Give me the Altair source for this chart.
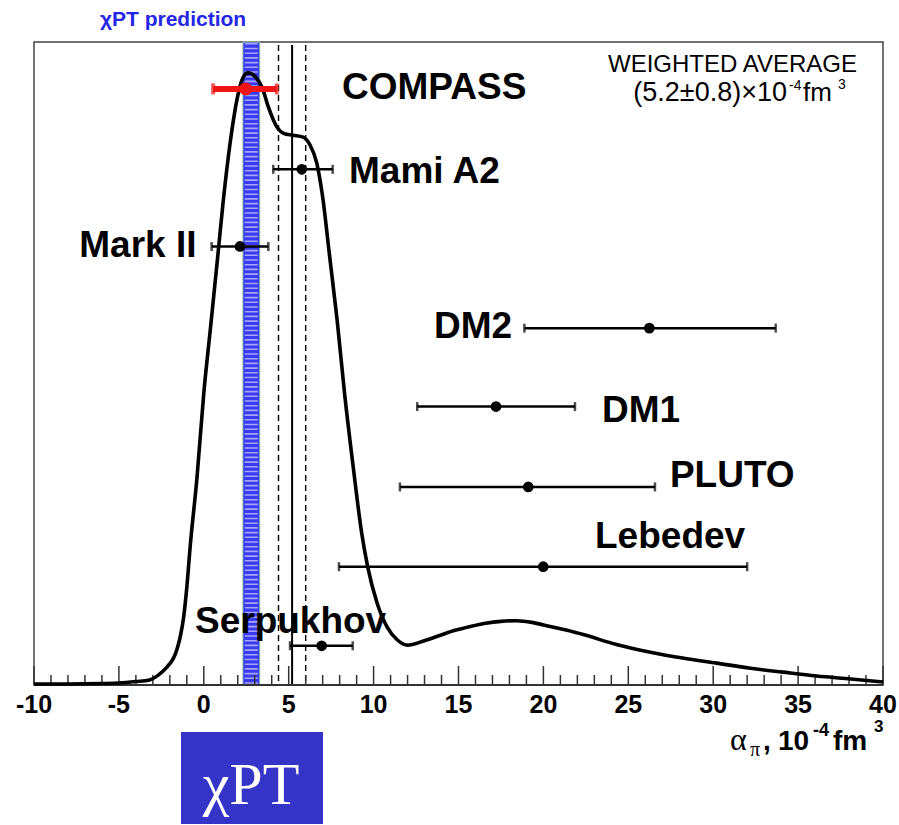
import altair as alt
import pandas as pd

# ---------------- data ----------------
curve_x = [-10, -8, -6, -5, -4, -3.2, -2.7, -2.2, -1.8, -1.65, -1.5, -1.35, -1.2, -1.0, -0.8,
           -0.4, 0.0, 0.4,
           0.8, 1.15, 1.55, 1.95, 2.25, 2.6, 3.1, 3.45, 3.8, 4.3, 4.7, 5.25, 5.85, 6.25, 6.65,
           7.0, 7.4, 7.85, 8.3, 8.8, 9.3, 9.65, 10.2, 10.8, 11.4, 12.0, 12.9, 13.9, 14.8, 15.7,
           16.6, 17.5, 18.4, 19.4, 20.4, 21.4, 22.4, 24.3, 26.3, 28.2, 30.2, 32.2, 34.1, 36.1,
           38.1, 40]
curve_y = [0.16, 0.16, 0.23, 0.31, 0.54, 0.78, 1.5, 2.7, 4.1, 5.0, 6.3, 8.0, 10.3, 15.2, 21.6,
           32.3, 45.4, 55.7,
           66.1, 75.4, 84.3, 91.0, 94.1, 95.2, 94.4, 92.8, 89.9, 86.8, 85.8, 85.5, 85.2, 84.0, 81.2,
           75.9, 66.9, 56.8, 45.1, 33.9, 23.6, 18.4, 12.8, 9.0, 7.0, 6.2, 6.8, 7.7, 8.5, 9.1,
           9.6, 9.9, 10.0, 9.7, 9.1, 8.5, 7.8, 6.3, 5.1, 4.2, 3.4, 2.6, 2.0, 1.4,
           0.93, 0.47]

exp_names = ["COMPASS", "Mami A2", "Mark II", "DM2", "DM1", "PLUTO", "Lebedev", "Serpukhov"]
exp_val = [2.47, 5.77, 2.13, 26.24, 17.21, 19.11, 19.99, 6.94]
exp_lo = [0.55, 4.09, 0.46, 18.88, 12.57, 11.55, 7.96, 5.08]
exp_hi = [4.30, 7.59, 3.80, 33.68, 21.86, 26.57, 32.00, 8.77]
exp_row = [92.7, 80.2, 68.2, 55.5, 43.3, 30.8, 18.4, 6.1]

label_x = [8.14, 8.55, -0.43, 13.56, 23.45, 27.45, 23.04, -0.52]
label_y = [91.1, 78.1, 66.6, 54.0, 40.9, 30.8, 21.3, 8.1]
label_align = ["left", "left", "right", "left", "left", "left", "left", "left"]

wavg = [5.2]
wavg_lo = [4.4]
wavg_hi = [6.0]
chpt_lo = [2.3]
chpt_hi = [3.3]

major_ticks = [-10, -5, 0, 5, 10, 15, 20, 25, 30, 35, 40]
minor_ticks = [v for v in range(-10, 41) if v % 5 != 0]

# ---------------- tables ----------------
curve_df = pd.DataFrame({"x": curve_x, "y": curve_y})
exp_df = pd.DataFrame({"name": exp_names, "val": exp_val, "lo": exp_lo, "hi": exp_hi,
                       "row": exp_row, "lx": label_x, "ly": label_y, "align": label_align})
exp_df["red"] = exp_df["name"] == "COMPASS"
caps_df = pd.concat([
    pd.DataFrame({"name": exp_names, "cx": exp_lo, "row": exp_row}),
    pd.DataFrame({"name": exp_names, "cx": exp_hi, "row": exp_row}),
])
caps_df["red"] = caps_df["name"] == "COMPASS"
band_df = pd.DataFrame({"lo": chpt_lo, "hi": chpt_hi})
wavg_df = pd.DataFrame({"c": wavg})
wdash_df = pd.DataFrame({"c": wavg_lo + wavg_hi})
maj_df = pd.DataFrame({"t": major_ticks})
min_df = pd.DataFrame({"t": minor_ticks})
one = pd.DataFrame({"a": [0]})

W, H = 849, 643
xs = alt.Scale(domain=[-10, 40], nice=False, zero=False)
ys = alt.Scale(domain=[0, 100], nice=False, zero=True)
SANS = "Liberation Sans"
SERIF = "Liberation Serif"
LAB = 37

band = alt.Chart(band_df).mark_rect(fill="#3a3af2", stroke="#9fd3a6", strokeWidth=1).encode(
    x=alt.X("lo:Q", scale=xs, axis=None), x2="hi:Q",
    y=alt.value(0), y2=alt.value(H))
# dotted texture of the band
band_tex = alt.Chart(band_df).transform_calculate(c="(datum.lo + datum.hi) / 2").mark_rule(
    color="white", strokeWidth=13, strokeDash=[1.6, 3.1], opacity=0.55).encode(
    x=alt.X("c:Q", scale=xs, axis=None), y=alt.value(1), y2=alt.value(H))

wline = alt.Chart(wavg_df).mark_rule(color="black", strokeWidth=2).encode(
    x=alt.X("c:Q", scale=xs, axis=None), y=alt.value(3), y2=alt.value(H))
wdash = alt.Chart(wdash_df).mark_rule(color="black", strokeWidth=1.4, strokeDash=[6, 4]).encode(
    x=alt.X("c:Q", scale=xs, axis=None), y=alt.value(3), y2=alt.value(H))

tmaj = alt.Chart(maj_df).mark_rule(color="#333", strokeWidth=1.5).encode(
    x=alt.X("t:Q", scale=xs, axis=None), y=alt.value(H - 19), y2=alt.value(H))
tmin = alt.Chart(min_df).mark_rule(color="#333", strokeWidth=1.5).encode(
    x=alt.X("t:Q", scale=xs, axis=None), y=alt.value(H - 10), y2=alt.value(H))
tlab = alt.Chart(maj_df).transform_calculate(
    lbl="datum.t < 0 ? '-' + abs(datum.t) : '' + datum.t"
).mark_text(font=SANS, fontWeight="bold", fontSize=25, color="black",
            align="center", baseline="alphabetic").encode(
    x=alt.X("t:Q", scale=xs, axis=None), y=alt.value(H + 28), text="lbl:N")
base = alt.Chart(one).mark_rule(color="#333", strokeWidth=2).encode(
    x=alt.value(0), x2=alt.value(W), y=alt.value(H))

curve = alt.Chart(curve_df).mark_line(color="black", strokeWidth=3.6, interpolate="monotone").encode(
    x=alt.X("x:Q", scale=xs, axis=None),
    y=alt.Y("y:Q", scale=ys, axis=None))

bars_black = alt.Chart(exp_df).transform_filter("!datum.red").mark_rule(
    color="black", strokeWidth=2.5).encode(
    x=alt.X("lo:Q", scale=xs, axis=None), x2="hi:Q", y=alt.Y("row:Q", scale=ys, axis=None))
bars_red = alt.Chart(exp_df).transform_filter("datum.red").mark_rule(
    color="#f01414", strokeWidth=6).encode(
    x=alt.X("lo:Q", scale=xs, axis=None), x2="hi:Q", y=alt.Y("row:Q", scale=ys, axis=None))

caps_black = alt.Chart(caps_df).transform_filter("!datum.red").mark_tick(
    orient="vertical", color="black", size=9, thickness=2.5).encode(
    x=alt.X("cx:Q", scale=xs, axis=None), y=alt.Y("row:Q", scale=ys, axis=None))
caps_red = alt.Chart(caps_df).transform_filter("datum.red").mark_tick(
    orient="vertical", color="#f01414", size=11, thickness=4).encode(
    x=alt.X("cx:Q", scale=xs, axis=None), y=alt.Y("row:Q", scale=ys, axis=None))

pts_black = alt.Chart(exp_df).transform_filter("!datum.red").mark_circle(
    color="black", size=115, opacity=1).encode(
    x=alt.X("val:Q", scale=xs, axis=None), y=alt.Y("row:Q", scale=ys, axis=None))
pts_red = alt.Chart(exp_df).transform_filter("datum.red").mark_circle(
    color="#f01414", size=170, opacity=1).encode(
    x=alt.X("val:Q", scale=xs, axis=None), y=alt.Y("row:Q", scale=ys, axis=None))

lab_left = alt.Chart(exp_df).transform_filter("datum.align == 'left'").mark_text(
    font=SANS, fontWeight="bold", fontSize=LAB, align="left", baseline="alphabetic",
    color="black").encode(
    x=alt.X("lx:Q", scale=xs, axis=None), y=alt.Y("ly:Q", scale=ys, axis=None), text="name:N")
lab_right = alt.Chart(exp_df).transform_filter("datum.align == 'right'").mark_text(
    font=SANS, fontWeight="bold", fontSize=LAB, align="right", baseline="alphabetic",
    color="black").encode(
    x=alt.X("lx:Q", scale=xs, axis=None), y=alt.Y("ly:Q", scale=ys, axis=None), text="name:N")


def txt(s, x, y, size, font=SANS, weight="normal", color="black", align="left"):
    return alt.Chart(one).mark_text(
        text=s, font=font, fontSize=size, fontWeight=weight, color=color,
        align=align, baseline="alphabetic").encode(x=alt.value(x), y=alt.value(y))


annots = [
    txt("WEIGHTED AVERAGE", 698.5, 30, 24, align="center"),
    txt("(5.2\u00b10.8)\u00d710", 753, 59, 27, align="right"),
    txt("-4", 755, 48, 14),
    txt("fm", 769, 59, 26),
    txt("3", 804, 47, 14),
    txt("\u03c7PT prediction", 139, -16, 21, weight="bold", color="#2525e6", align="center"),
    # axis title
    txt("\u03b1", 696, 708, 32, font=SERIF),
    txt("\u03c0", 716, 714, 20, font=SERIF),
    txt(",", 729, 708, 28, weight="bold"),
    txt("10", 744, 708, 28, weight="bold"),
    txt("-4", 779, 694, 18, weight="bold"),
    txt("fm", 799, 708, 28, weight="bold"),
    txt("3", 840, 690, 17, weight="bold"),
]

chpt_box = alt.Chart(one).mark_rect(fill="#3434c8").encode(
    x=alt.value(147), x2=alt.value(289), y=alt.value(690), y2=alt.value(782))
chpt_txt = txt("\u03c7PT", 217, 762, 60, font=SERIF, color="white", align="center")

chart = alt.layer(
    band, band_tex, wline, wdash, tmaj, tmin, base, tlab, curve,
    bars_black, bars_red, caps_black, caps_red, pts_black, pts_red,
    lab_left, lab_right, *annots, chpt_box, chpt_txt
).properties(
    width=W, height=H,
    padding={"left": 34, "top": 42, "right": 16, "bottom": 140},
    autosize=alt.AutoSizeParams(type="none"),
).configure_view(stroke="#444", strokeWidth=1.5)

chart.save("out.html", embed_options={"renderer": "svg", "actions": False})
